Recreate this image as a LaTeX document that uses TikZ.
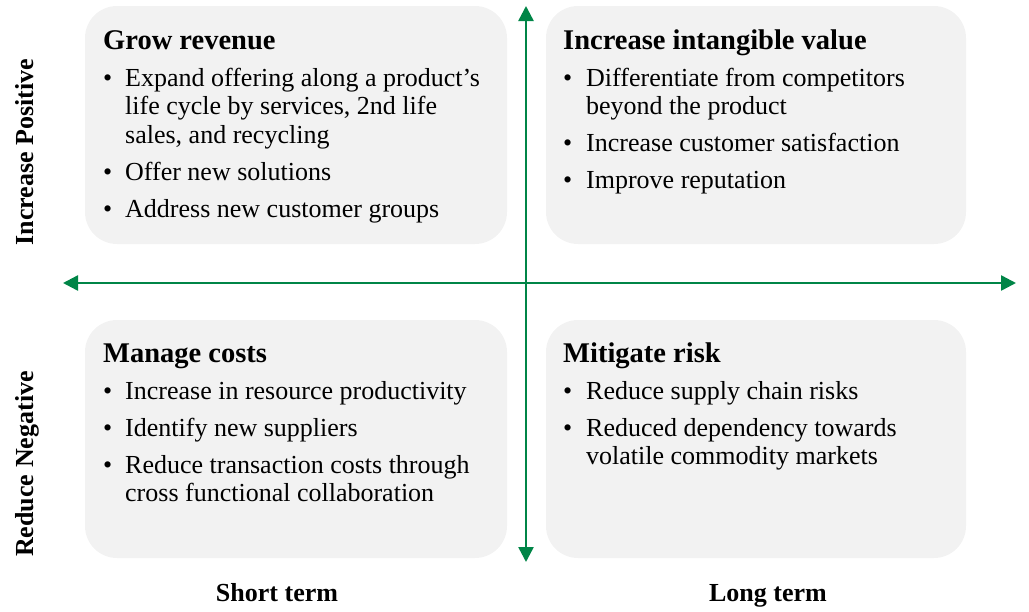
\documentclass[tikz,border=0pt]{standalone}
\usepackage{fontspec}
\setmainfont{Liberation Serif}
\usetikzlibrary{arrows.meta}
\definecolor{axgreen}{RGB}{0,133,71}
\definecolor{boxgray}{RGB}{242,242,242}
\tikzset{
  >={Triangle[length=15pt,width=15pt]},
  box/.style={fill=boxgray,rounded corners=32pt,minimum height=238pt,inner sep=0pt},
  txt/.style={anchor=base west,inner sep=0pt,font=\fontsize{26}{28.5}\selectfont},
  lbl/.style={anchor=base,inner sep=0pt,font=\fontsize{26}{30}\selectfont\bfseries},
  ax/.style={<->,draw=axgreen,line width=2.5pt},
}
\newcommand{\ttl}[1]{\multicolumn{2}{@{}l@{}}{\fontsize{28.5}{28.5}\selectfont\bfseries #1}}

\begin{document}
\begin{tikzpicture}[x=1pt,y=-1pt]
\useasboundingbox (0,0) rectangle (1029,611);
% quadrants
\node[box,minimum width=422pt] (GR) at (296,125){};
\node[box,minimum width=420pt] (IV) at (756,125){};
\node[box,minimum width=422pt] (MC) at (296,439){};
\node[box,minimum width=420pt] (MR) at (756,439){};
% axes
\coordinate (xl) at (63,283); \coordinate (xr) at (1016,283);
\coordinate (yt) at (526,6); \coordinate (yb) at (526,562);
\draw[ax] (xl)--(xr); \draw[ax] (yt)--(yb);
% quadrant texts
\node[txt] (grt) at (103,49.5){\begin{tabular}[t]{@{}p{22pt}@{}l@{}}
\ttl{Grow revenue}\\[8pt]
\textbullet & Expand offering along a product’s\\
 & life cycle by services, 2nd life\\
 & sales, and recycling\\[8.5pt]
\textbullet & Offer new solutions\\[8.5pt]
\textbullet & Address new customer groups
\end{tabular}};
\node[txt] (ivt) at (563,49.5){\begin{tabular}[t]{@{}p{23pt}@{}l@{}}
\ttl{Increase intangible value}\\[8pt]
\textbullet & Differentiate from competitors\\
 & beyond the product\\[8.5pt]
\textbullet & Increase customer satisfaction\\[8.5pt]
\textbullet & Improve reputation
\end{tabular}};
\node[txt] (mct) at (103,362.7){\begin{tabular}[t]{@{}p{22pt}@{}l@{}}
\ttl{Manage costs}\\[8pt]
\textbullet & Increase in resource productivity\\[8.5pt]
\textbullet & Identify new suppliers\\[8.5pt]
\textbullet & Reduce transaction costs through\\
 & cross functional collaboration
\end{tabular}};
\node[txt] (mrt) at (563,362.7){\begin{tabular}[t]{@{}p{23pt}@{}l@{}}
\ttl{Mitigate risk}\\[8pt]
\textbullet & Reduce supply chain risks\\[8.5pt]
\textbullet & Reduced dependency towards\\
 & volatile commodity markets
\end{tabular}};
% axis labels
\node[lbl,rotate=90] (ip) at (33,152){Increase Positive};
\node[lbl,rotate=90] (rn) at (33,464){Reduce Negative};
\node[lbl] (st) at (277,601){Short term};
\node[lbl] (lt) at (768,601){Long term};
\end{tikzpicture}
\end{document}
